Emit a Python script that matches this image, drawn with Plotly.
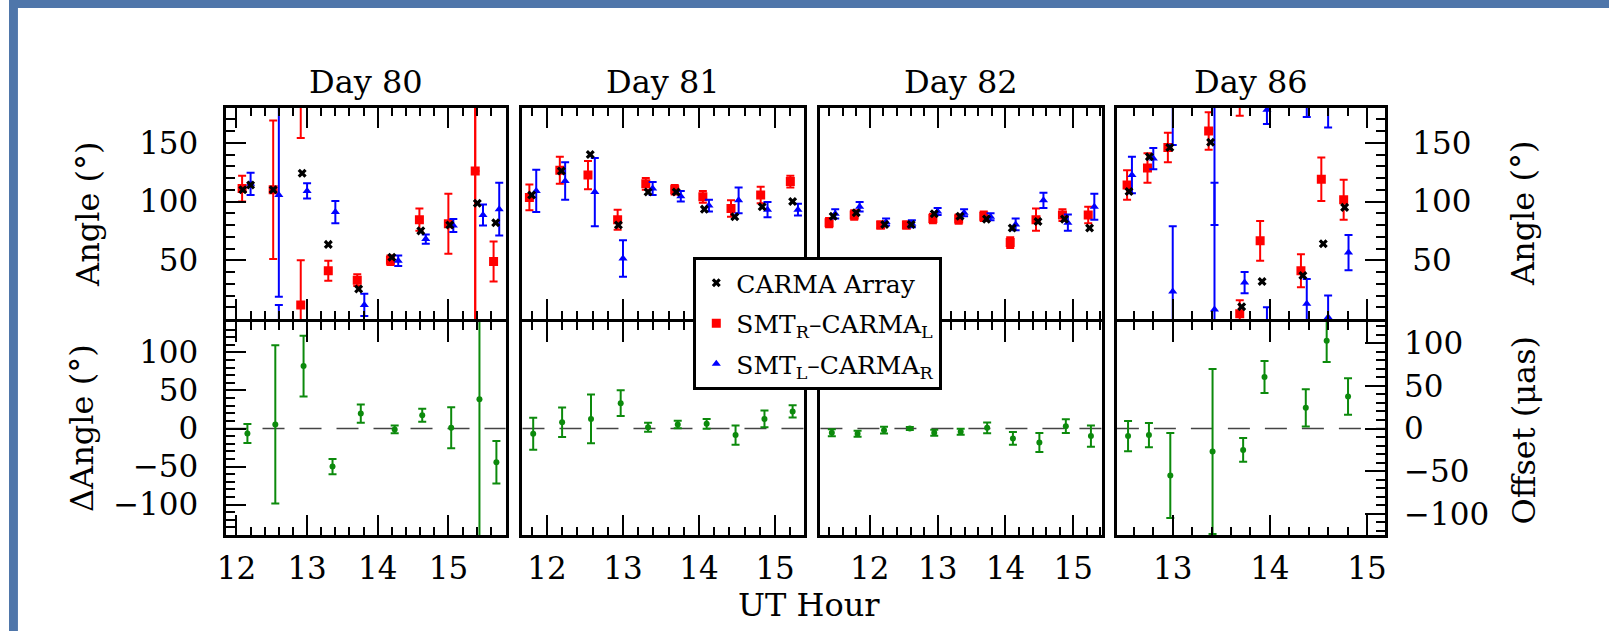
import plotly.graph_objects as go

W, H = 1611, 631
FONT = "DejaVu Serif"
RED, BLUE, BLACK, GREEN = "#ff0000", "#0000ff", "#000000", "#0c8a0c"

day_labels = ["Day 80", "Day 81", "Day 82", "Day 86"]

# ---------------- Day 80 ----------------
d80_red_t = [12.08, 12.52, 12.91, 13.30, 13.71, 14.18, 14.59, 15.00, 15.38, 15.64]
d80_red_v = [111, 110, 12, 41, 33, 50, 84.5, 81, 126, 49]
d80_red_e = [11, 59, 38, 8.5, 5, 4, 9.5, 25.5, 180, 17]
d80_blue_t = [12.20, 12.60, 13.00, 13.40, 13.81, 14.29, 14.68, 15.07, 15.49, 15.72]
d80_blue_v = [115, 105.5, 109, 91, 12, 49.5, 68, 79.5, 88.5, 93.5]
d80_blue_e = [9.5, 86.5, 6.5, 9.5, 9.5, 4.5, 4, 5.5, 9, 22.5]
d80_carma_t = [12.09, 12.20, 12.52, 12.93, 13.30, 13.73, 14.20, 14.61, 15.02, 15.41, 15.67]
d80_carma_v = [110, 114, 110, 124, 63.5, 25.5, 52.5, 75, 80, 98.5, 82]
d80_diff_t = [12.155, 12.55, 12.95, 13.36, 13.76, 14.24, 14.63, 15.04, 15.44, 15.68]
d80_diff_v = [-6.7, 5.3, 82, -50, 19.6, -1.2, 17.4, 1, 38.6, -44.3]
d80_diff_e = [12.5, 104, 40, 10, 12, 5, 8.5, 27, 200, 28]

# ---------------- Day 81 ----------------
d81_red_t = [11.77, 12.17, 12.54, 12.93, 13.30, 13.68, 14.05, 14.42, 14.81, 15.20]
d81_red_v = [103.5, 126.5, 122.5, 84.5, 115, 110, 104, 94, 105.5, 117]
d81_red_e = [11, 11.5, 12, 8.5, 5, 4, 5, 7, 7, 5]
d81_blue_t = [11.86, 12.24, 12.63, 13.00, 13.39, 13.76, 14.13, 14.52, 14.90, 15.30]
d81_blue_v = [109, 117.5, 108, 51.5, 111, 104.5, 96.5, 101, 93, 93]
d81_blue_e = [18, 16, 29, 15.5, 5.5, 4.5, 5, 11, 6.5, 5]
d81_carma_t = [11.80, 12.19, 12.57, 12.94, 13.33, 13.70, 14.07, 14.47, 14.83, 15.23]
d81_carma_v = [105.5, 126, 140, 80, 108, 108, 93.5, 87, 95.5, 100]
d81_diff_t = [11.82, 12.20, 12.58, 12.97, 13.33, 13.72, 14.10, 14.48, 14.86, 15.23]
d81_diff_v = [-6.9, 8.2, 12.6, 33.3, 1.7, 5.2, 6.1, -8.7, 12.6, 22.4]
d81_diff_e = [21, 19.5, 32, 17, 6, 5, 6.5, 12.5, 11, 8]

# ---------------- Day 82 ----------------
d82_red_t = [11.40, 11.77, 12.16, 12.54, 12.93, 13.31, 13.68, 14.07, 14.45, 14.84, 15.22]
d82_red_v = [82, 88.5, 80, 80, 85.5, 85, 87.5, 65, 84.5, 88.5, 88.5]
d82_red_e = [4, 4, 3, 3, 4, 4, 4, 4.5, 9.5, 5, 7]
d82_blue_t = [11.49, 11.85, 12.24, 12.62, 13.00, 13.39, 13.78, 14.15, 14.56, 14.92, 15.31]
d82_blue_v = [89.5, 95.5, 82.5, 81, 91.5, 90.5, 87, 80.5, 101, 82, 95.5]
d82_blue_e = [4, 4, 3, 3, 3, 3, 3, 5, 6.5, 7, 11]
d82_carma_t = [11.46, 11.80, 12.22, 12.61, 12.95, 13.33, 13.72, 14.10, 14.48, 14.87, 15.24]
d82_carma_v = [87.5, 90.5, 80.5, 80.5, 89.5, 87.5, 85, 77.5, 83, 85, 77.5]
d82_diff_t = [11.44, 11.82, 12.21, 12.59, 12.95, 13.34, 13.73, 14.11, 14.50, 14.89, 15.26]
d82_diff_v = [-5.6, -6.9, -2.2, 0, -5.6, -4.3, 0.9, -13, -18.5, 3, -10]
d82_diff_e = [4.5, 4, 4.5, 2, 4, 4, 7, 8.5, 12.5, 9, 14]

# ---------------- Day 86 ----------------
d86_red_t = [12.53, 12.74, 12.95, 13.37, 13.69, 13.90, 14.32, 14.53, 14.76]
d86_red_v = [114, 128.5, 146, 160, 4.5, 66.5, 41, 119, 101.5]
d86_red_e = [12.5, 12.5, 12.5, 16, 11.5, 17, 14, 18.5, 17]
d86_blue_t = [12.58, 12.80, 13.00, 13.43, 13.74, 13.97, 14.38, 14.60, 14.81]
d86_blue_v = [122.5, 136.5, 23.5, 8, 31, 178, 13, 1.5, 56.5]
d86_blue_e = [15.5, 9, 55.5, 108, 9, 12, 21, 18.5, 15]
d86_carma_t = [12.55, 12.76, 12.97, 13.39, 13.71, 13.92, 14.34, 14.55, 14.77]
d86_carma_v = [108.5, 138, 146, 150.5, 10.5, 32, 37, 64, 95]
d86_diff_t = [12.54, 12.755, 12.975, 13.41, 13.725, 13.945, 14.37, 14.585, 14.805]
d86_diff_v = [-10, -8.7, -61.8, -30.3, -28.1, 67.7, 27.2, 115.3, 42.2]
d86_diff_e = [20, 16, 56, 108.5, 15.5, 21, 24.5, 28, 24]

# UT-hour window shown for each day
x_ranges = [[11.845, 15.81], [11.679, 15.38], [11.272, 15.423], [12.425, 15.186]]
angle_range = [0, 180]
dangle_range = [-140, 140]
offset_range = [-125, 125]

panels = [
    (d80_red_t, d80_red_v, d80_red_e, d80_blue_t, d80_blue_v, d80_blue_e,
     d80_carma_t, d80_carma_v, d80_diff_t, d80_diff_v, d80_diff_e),
    (d81_red_t, d81_red_v, d81_red_e, d81_blue_t, d81_blue_v, d81_blue_e,
     d81_carma_t, d81_carma_v, d81_diff_t, d81_diff_v, d81_diff_e),
    (d82_red_t, d82_red_v, d82_red_e, d82_blue_t, d82_blue_v, d82_blue_e,
     d82_carma_t, d82_carma_v, d82_diff_t, d82_diff_v, d82_diff_e),
    (d86_red_t, d86_red_v, d86_red_e, d86_blue_t, d86_blue_v, d86_blue_e,
     d86_carma_t, d86_carma_v, d86_diff_t, d86_diff_v, d86_diff_e),
]

# ---------------- layout geometry (pixels, inner edges of the frames) ----------------
col_px = [(218, 500), (517, 800.5), (817, 1100.5), (1115.5, 1385.5)]
upper_px = (107.5, 319)
lower_px = (322, 535)


def fx(p):
    return p / W


def fy(p):
    return 1 - p / H


def sfx(n):
    return "" if n == 1 else str(n)


fig = go.Figure()


def add_series(n, t, v, e, color, symbol, size, name=None, rank=None, wrap=False):
    xa, ya = "x" + sfx(n), "y" + sfx(n)
    err = dict(type="data", array=e, color=color, thickness=2, width=4, visible=True) \
        if e is not None else dict(visible=False)
    fig.add_trace(go.Scatter(
        x=t, y=v, xaxis=xa, yaxis=ya, mode="markers",
        marker=dict(color=color, symbol=symbol, size=size, line=dict(width=0)),
        error_y=err, name=name or "", showlegend=name is not None,
        legendgroup=name, legendrank=rank if rank else 1000, hoverinfo="skip"))
    if not wrap or e is None:
        return
    # position angles are modulo 180: bars running past an edge re-enter on the other side
    up_t, up_v, dn_t, dn_v = [], [], [], []
    for ti, vi, ei in zip(t, v, e):
        if vi + ei > 180:
            up_t.append(ti)
            up_v.append(vi + ei - 180)
        if vi - ei < 0:
            dn_t.append(ti)
            dn_v.append(vi - ei + 180)
    for tt, vv, plus, minus in ((up_t, up_v, 0, 250), (dn_t, dn_v, 250, 0)):
        if not tt:
            continue
        fig.add_trace(go.Scatter(
            x=tt, y=vv, xaxis=xa, yaxis=ya, mode="markers",
            marker=dict(color=color, size=2, opacity=0),
            error_y=dict(type="data", symmetric=False, array=[plus] * len(tt),
                         arrayminus=[minus] * len(tt), color=color, thickness=2, width=4),
            showlegend=False, hoverinfo="skip"))


label_font = dict(family=FONT, size=31, color="black")
tick_common = dict(showline=True, linecolor="black", linewidth=3, showgrid=False, zeroline=False,
                   tickcolor="black", tickwidth=2, tickfont=label_font)
y_minor = dict(ticks="inside", ticklen=9, tickwidth=2, tickcolor="black", tick0=0, dtick=10)

layout_axes = {}
shapes = []
annotations = []

for i, (rt, rv, re_, bt, bv, be, ct, cv, gt, gv, ge) in enumerate(panels):
    nu, nl = 2 * i + 1, 2 * i + 2
    xdom = [fx(col_px[i][0]), fx(col_px[i][1])]
    for n, ypx, lower in ((nu, upper_px, False), (nl, lower_px, True)):
        layout_axes["xaxis" + sfx(n)] = dict(
            tick_common, domain=xdom, range=x_ranges[i], anchor="y" + sfx(n),
            mirror="allticks", ticks="inside", ticklen=20, tick0=12, dtick=1,
            minor=dict(ticks="inside", ticklen=8, tickwidth=2, tickcolor="black", tick0=12, dtick=0.2),
            showticklabels=lower, ticklabelstandoff=4)
        ydom = [fy(ypx[1]), fy(ypx[0])]
        yax = dict(tick_common, domain=ydom, anchor="x" + sfx(n), mirror=True,
                   range=dangle_range if lower else angle_range)
        tv = [-100, -50, 0, 50, 100] if lower else [50, 100, 150]
        if i == 0 or (i == 3 and not lower):
            yax.update(ticks="inside", ticklen=20, tickvals=tv, showticklabels=True,
                       minor=y_minor, ticklabelstandoff=18)
            if i == 3:
                yax.update(side="right")
        else:
            yax.update(ticks="", showticklabels=False)
        layout_axes["yaxis" + sfx(n)] = yax

    first = i == 0
    add_series(nu, rt, rv, re_, RED, "square", 9,
               name="SMT<sub>R</sub>–CARMA<sub>L</sub>" if first else None, rank=2, wrap=True)
    add_series(nu, bt, bv, be, BLUE, "triangle-up", 8,
               name="SMT<sub>L</sub>–CARMA<sub>R</sub>" if first else None, rank=3, wrap=True)
    add_series(nu, ct, cv, None, BLACK, "x", 8,
               name="CARMA Array" if first else None, rank=1)
    add_series(nl, gt, gv, ge, GREEN, "circle", 6)

    # zero reference in the difference panel
    shapes.append(dict(type="line", xref="x" + sfx(nl) + " domain", yref="y" + sfx(nl),
                       x0=0, x1=1, y0=0, y1=0, layer="below",
                       line=dict(color="#444444", width=1.5, dash="22px,15px")))

    annotations.append(dict(text=day_labels[i], x=(xdom[0] + xdom[1]) / 2, y=fy(81.7),
                            xref="paper", yref="paper", showarrow=False,
                            xanchor="center", yanchor="middle",
                            font=dict(family=FONT, size=32, color="black")))

# offset scale on the right of the last difference panel (own hidden x axis)
layout_axes["xaxis9"] = dict(domain=[fx(col_px[3][0]), fx(col_px[3][1])], range=x_ranges[3],
                             anchor="y9", visible=False)
layout_axes["yaxis9"] = dict(tick_common, domain=[fy(lower_px[1]), fy(lower_px[0])],
                             anchor="x9", side="right", range=offset_range, showline=False,
                             ticks="inside", ticklen=20, tickvals=[-100, -50, 0, 50, 100],
                             minor=y_minor, ticklabelstandoff=18)
fig.add_trace(go.Scatter(x=[None], y=[None], xaxis="x9", yaxis="y9", mode="markers",
                         showlegend=False, hoverinfo="skip"))

axis_font = dict(family=FONT, size=32, color="black")
for text, x, y in (("Angle (°)", 80, 213.5), ("ΔAngle (°)", 73, 428.5),
                   ("Angle (°)", 1525, 213.5), ("Offset (μas)", 1525, 430)):
    annotations.append(dict(text=text, x=fx(x), y=fy(y), xref="paper", yref="paper",
                            xanchor="center", yanchor="middle",
                            showarrow=False, textangle=-90, font=axis_font))
annotations.append(dict(text="UT Hour", x=fx(805), y=fy(605), xref="paper", yref="paper",
                        xanchor="center", yanchor="middle", showarrow=False, font=axis_font))

# page frame
shapes.append(dict(type="rect", xref="paper", yref="paper", x0=0, x1=fx(9), y0=0, y1=1,
                   fillcolor="#4f76aa", line=dict(width=0), layer="above"))
shapes.append(dict(type="rect", xref="paper", yref="paper", x0=0, x1=1, y0=fy(8), y1=1,
                   fillcolor="#4f76aa", line=dict(width=0), layer="above"))

fig.update_layout(
    width=W, height=H, margin=dict(l=0, r=0, t=0, b=0),
    paper_bgcolor="white", plot_bgcolor="rgba(0,0,0,0)",
    font=dict(family=FONT, color="black"),
    showlegend=True,
    legend=dict(x=fx(689), y=fy(257), xanchor="left", yanchor="top",
                bgcolor="white", bordercolor="black", borderwidth=3,
                font=dict(family=FONT, size=25, color="black"),
                itemwidth=30, tracegroupgap=5),
    shapes=shapes, annotations=annotations,
    **layout_axes,
)

fig.write_html("out.html")
